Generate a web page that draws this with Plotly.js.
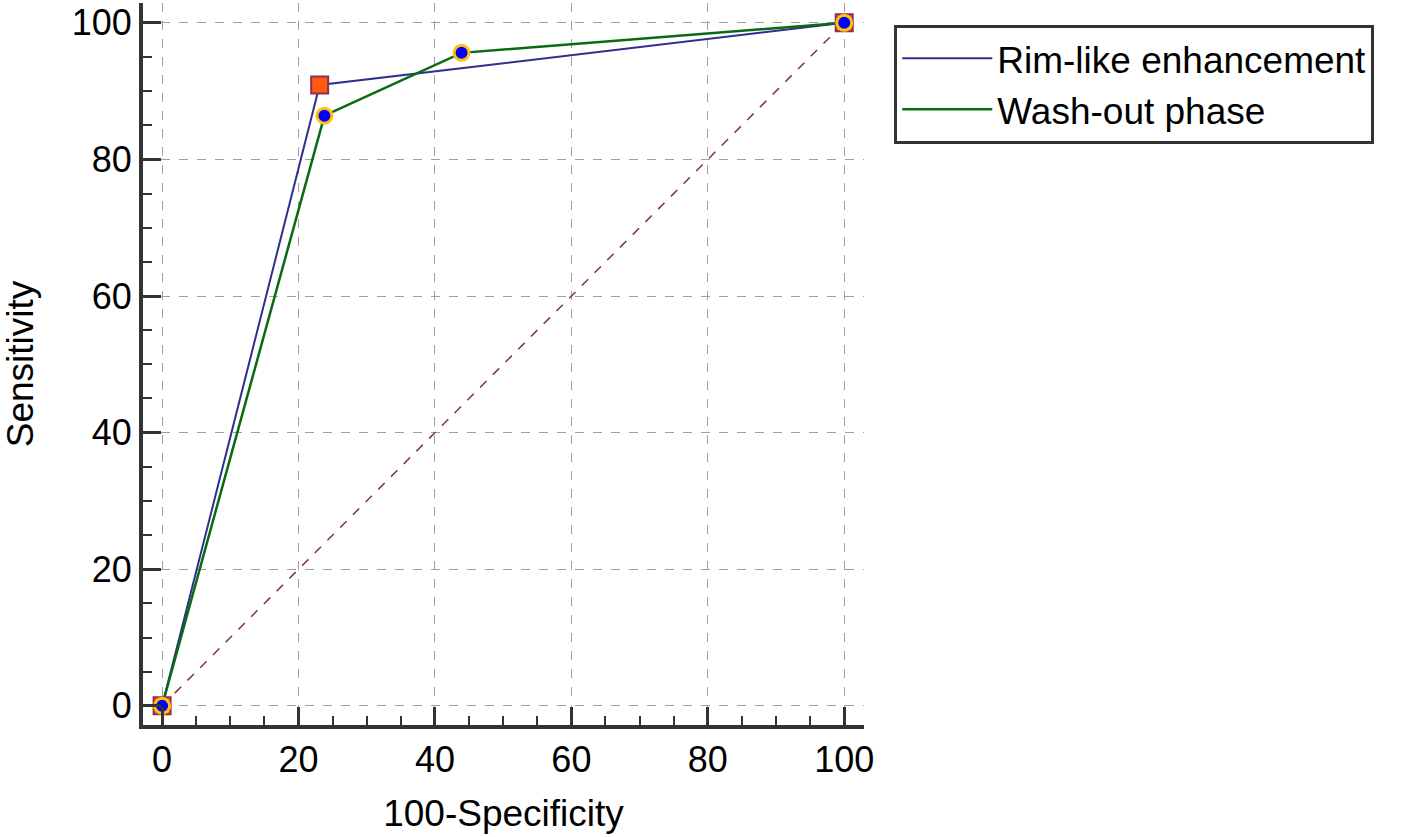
<!DOCTYPE html>
<html>
<head>
<meta charset="utf-8">
<script src="https://cdn.plot.ly/plotly-3.0.1.min.js"></script>
<style>html,body{margin:0;padding:0;background:#fff;}#chart{width:1418px;height:837px;}</style>
</head>
<body>
<div id="chart"></div>
<script>
// Data
const rimX = [0, 23.1, 100];
const rimY = [0, 90.9, 100];
const washX = [0, 23.8, 43.9, 100];
const washY = [0, 86.4, 95.6, 100];
const diagX = [0, 100];
const diagY = [0, 100];
const seriesNames = ["Rim-like enhancement", "Wash-out phase"];
const xTitle = "100-Specificity";
const yTitle = "Sensitivity";
const tickVals = [0, 20, 40, 60, 80, 100];

const FONT = "Liberation Sans, Arial, sans-serif";

const traces = [
  {x: diagX, y: diagY, mode: "lines", showlegend: false, hoverinfo: "skip",
   line: {color: "#7a3446", width: 1.5, dash: "dash"}},
  {x: rimX, y: rimY, mode: "lines", name: seriesNames[0],
   line: {color: "#2e2f8f", width: 2}},
  {x: washX, y: washY, mode: "lines", name: seriesNames[1],
   line: {color: "#0a6a12", width: 2.5}},
  {x: rimX, y: rimY, mode: "markers", showlegend: false,
   marker: {symbol: "square", size: 17, color: "#ff5a0e", line: {color: "#8a2f5a", width: 2}}},
  {x: washX, y: washY, mode: "markers", showlegend: false,
   marker: {symbol: "circle", size: 15, color: "#0000ff", line: {color: "#ffc20e", width: 3}}}
];

const axisCommon = {
  showline: true, linecolor: "#333", linewidth: 4, mirror: false,
  ticks: "inside", ticklen: 18, tickwidth: 3, tickcolor: "#333",
  tickvals: tickVals,
  tickfont: {family: FONT, size: 36, color: "#000"},
  showgrid: true, gridcolor: "#a0a0a0", gridwidth: 1, griddash: "dash",
  zeroline: false,
  minor: {ticks: "inside", dtick: 5, ticklen: 9, tickwidth: 2, tickcolor: "#333", showgrid: false},
  fixedrange: true
};

const layout = {
  width: 1418, height: 837,
  margin: {l: 143, r: 554, t: 3, b: 112},
  paper_bgcolor: "#fff", plot_bgcolor: "#fff",
  font: {family: FONT, color: "#000"},
  xaxis: Object.assign({}, axisCommon, {
    range: [-2.8, 102.9],
    title: {text: xTitle, font: {family: FONT, size: 37, color: "#000"}, standoff: 22}
  }),
  yaxis: Object.assign({}, axisCommon, {
    range: [-2.8, 102.9],
    title: {text: yTitle, font: {family: FONT, size: 37, color: "#000"}, standoff: 33}
  }),
  legend: {
    x: 1.042, y: 0.97, xanchor: "left", yanchor: "top",
    bgcolor: "#fff", bordercolor: "#333", borderwidth: 3,
    font: {family: FONT, size: 37, color: "#000"},
    itemwidth: 90
  },
  showlegend: true
};

Plotly.newPlot("chart", traces, layout, {displayModeBar: false, staticPlot: true});
</script>
</body>
</html>
